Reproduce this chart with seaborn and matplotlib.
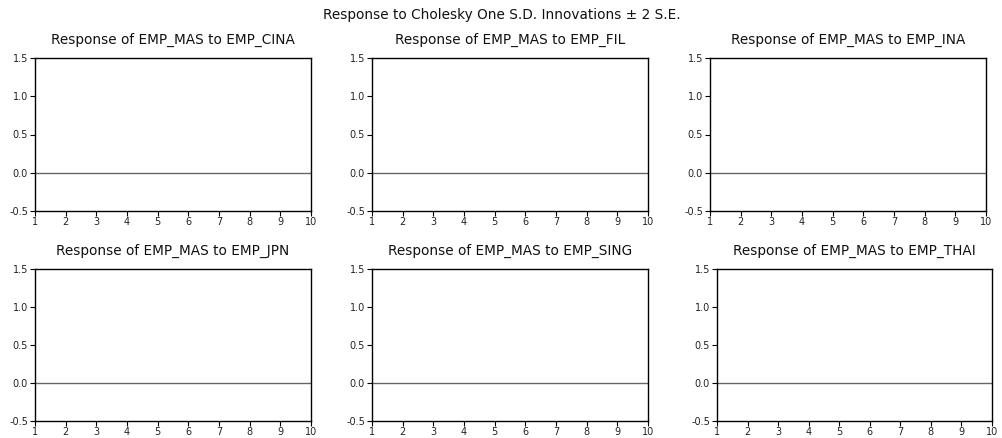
import matplotlib
matplotlib.use("Agg")
import matplotlib.pyplot as plt
import seaborn as sns
import pandas as pd

sns.set_theme(style="white")
plt.rcParams['font.family'] = ['DejaVu Sans']

# ---- data (all impulse responses are flat at zero) ----
periods = [1, 2, 3, 4, 5, 6, 7, 8, 9, 10]
shocks = ["EMP_CINA", "EMP_FIL", "EMP_INA", "EMP_JPN", "EMP_SING", "EMP_THAI"]
resp_cina = [0, 0, 0, 0, 0, 0, 0, 0, 0, 0]
resp_fil = [0, 0, 0, 0, 0, 0, 0, 0, 0, 0]
resp_ina = [0, 0, 0, 0, 0, 0, 0, 0, 0, 0]
resp_jpn = [0, 0, 0, 0, 0, 0, 0, 0, 0, 0]
resp_sing = [0, 0, 0, 0, 0, 0, 0, 0, 0, 0]
resp_thai = [0, 0, 0, 0, 0, 0, 0, 0, 0, 0]
responses = [resp_cina, resp_fil, resp_ina, resp_jpn, resp_sing, resp_thai]
y_ticks = [-0.5, 0.0, 0.5, 1.0, 1.5]

W, H = 1003, 438
fig = plt.figure(figsize=(W / 100, H / 100), dpi=100)

# axes boxes in pixels: (left, top, right, bottom)
boxes = [
    (35, 58, 311, 211), (372, 58, 648, 211), (710, 58, 986, 211),
    (35, 269, 311, 421), (372, 269, 648, 421), (717, 269, 992, 421),
]

for shock, resp, (l, t, r, b) in zip(shocks, responses, boxes):
    ax = fig.add_axes([l / W, 1 - b / H, (r - l) / W, (b - t) / H])
    df = pd.DataFrame({"period": periods, "response": resp})
    sns.lineplot(data=df, x="period", y="response", ax=ax,
                 color="#666666", linewidth=1.0)
    ax.set_xlim(1, 10)
    ax.set_ylim(-0.5, 1.5)
    ax.set_xticks(periods)
    ax.set_xticklabels([str(p) for p in periods])
    ax.set_yticks(y_ticks)
    ax.set_yticklabels([f"{v:.1f}" for v in y_ticks])
    ax.set_xlabel("")
    ax.set_ylabel("")
    ax.set_title(f"Response of EMP_MAS to {shock}", fontsize=9.8,
                 color="#111111", pad=10)
    for s in ax.spines.values():
        s.set_visible(True)
        s.set_color("black")
        s.set_linewidth(1.0)
    ax.tick_params(axis="both", direction="out", length=3.5, width=0.8,
                   colors="black", labelsize=7, labelcolor="#222222")
    ax.tick_params(axis="x", bottom=True, top=False, pad=0.5)
    ax.tick_params(axis="y", left=True, right=False, pad=1.5)
    ax.set_facecolor("white")

fig.text(0.5, 1 - 15 / H, "Response to Cholesky One S.D. Innovations \u00b1 2 S.E.",
         ha="center", va="center", fontsize=9.8, color="#111111")

fig.savefig("out.png", dpi=100, facecolor="white")
